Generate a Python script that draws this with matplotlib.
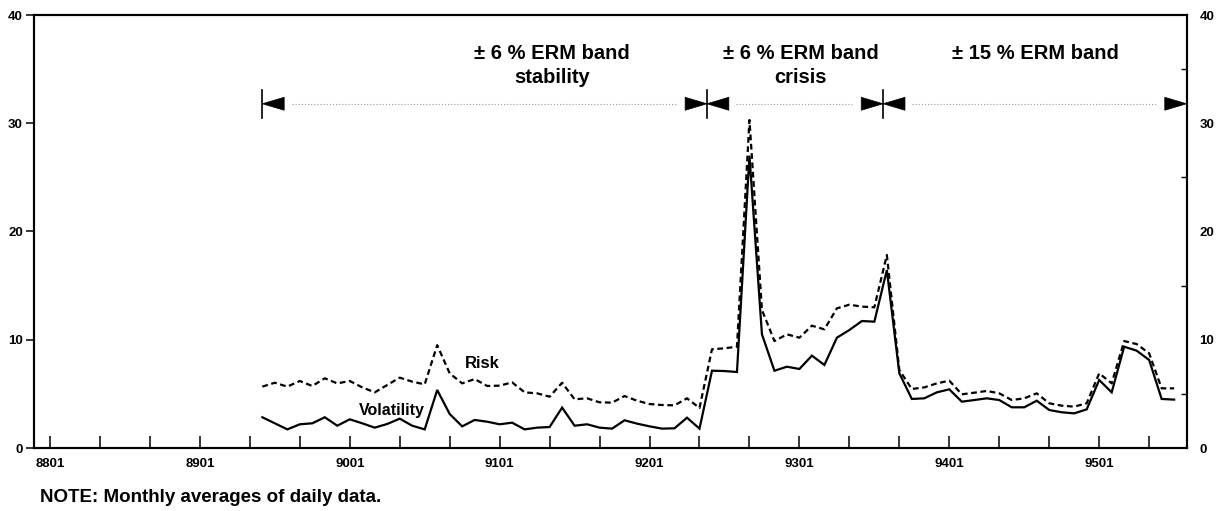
import numpy as np
import pandas as pd
import matplotlib
matplotlib.use("Agg")
import matplotlib.pyplot as plt
from matplotlib.patches import Polygon

plt.rcParams['font.family'] = ['Liberation Sans', 'DejaVu Sans']
plt.rcParams['font.weight'] = 'bold'

# ---- data (monthly averages, 1989-06 .. 1995-07) ----
months = pd.period_range('1989-06', '1995-07', freq='M')
volatility = [2.84, 2.28, 1.72, 2.19, 2.28, 2.84, 2.06, 2.65, 2.28, 1.88, 2.22, 2.71,
              2.06, 1.72, 5.36, 3.14, 2.00, 2.59, 2.43, 2.19, 2.34, 1.72, 1.88, 1.94,
              3.73, 2.06, 2.19, 1.88, 1.79, 2.56, 2.25, 2.00, 1.79, 1.82, 2.80, 1.79,
              7.14, 7.11, 7.02, 27.0, 10.5, 7.14, 7.51, 7.30, 8.53, 7.67, 10.19, 10.9,
              11.73, 11.67, 16.44, 6.90, 4.53, 4.59, 5.14, 5.42, 4.28, 4.43, 4.59, 4.43,
              3.76, 3.76, 4.37, 3.51, 3.30, 3.20, 3.57, 6.28, 5.14, 9.36, 8.99, 8.13,
              4.53, 4.47]
risk = [5.67, 6.03, 5.67, 6.19, 5.73, 6.44, 5.97, 6.19, 5.60, 5.14, 5.82, 6.50,
        6.13, 5.88, 9.50, 6.90, 5.97, 6.37, 5.73, 5.76, 6.06, 5.14, 5.05, 4.74,
        6.03, 4.50, 4.59, 4.22, 4.19, 4.80, 4.37, 4.06, 3.97, 3.94, 4.59, 3.70,
        9.12, 9.21, 9.36, 30.3, 12.75, 9.88, 10.5, 10.19, 11.3, 10.96, 12.9, 13.24,
        13.06, 13.0, 17.83, 7.20, 5.45, 5.60, 5.97, 6.22, 4.96, 5.11, 5.27, 5.05,
        4.43, 4.59, 5.05, 4.13, 3.91, 3.82, 4.13, 6.90, 5.97, 9.88, 9.60, 8.75,
        5.51, 5.51]
tick_labels = ['8801', '8901', '9001', '9101', '9201', '9301', '9401', '9501']
band_bounds = [17, 52.6, 66.7, 91.0]          # months since 8801
band_texts = ['\u00b1 6 % ERM band\nstability', '\u00b1 6 % ERM band\ncrisis', '\u00b1 15 % ERM band']
band_text_x = [40.2, 60.1, 78.9]

base = pd.Period('1988-01', freq='M')
x = np.array([(m - base).n for m in months])

fig = plt.figure(figsize=(12.24, 5.11), dpi=100)
ax = fig.add_axes([34/1224, 63/511, (1187-34)/1224, (448-15)/511])

ax.plot(x, volatility, color='black', lw=1.6, solid_joinstyle='miter')
ax.plot(x, risk, color='black', lw=1.6, ls=(0, (2.6, 1.6)))

ax.set_xlim(-1.28, 91.03)
ax.set_ylim(0, 40)

for s in ax.spines.values():
    s.set_linewidth(1.5)

ax.set_xticks(np.arange(0, 85, 12))
ax.set_xticklabels(tick_labels, fontsize=9.5, fontweight='bold')
ax.set_xticks(np.arange(0, 91, 4), minor=True)
ax.tick_params(axis='x', which='both', direction='in', length=9, width=1.1, pad=7)
ax.set_yticks([0, 10, 20, 30, 40])
ax.set_yticklabels(['0', '10', '20', '30', '40'], fontsize=9.5, fontweight='bold')
ax.tick_params(axis='y', which='major', direction='out', length=6, width=1.1, pad=2)

ax2 = ax.twinx()
ax2.set_ylim(0, 40)
ax2.set_yticks([0, 10, 20, 30, 40])
ax2.set_yticklabels(['0', '10', '20', '30', '40'], fontsize=9.5, fontweight='bold')
ax2.set_yticks([5, 15, 25, 35], minor=True)
ax2.tick_params(axis='y', which='major', direction='out', length=0, pad=9)
ax2.tick_params(axis='y', which='minor', direction='in', length=4, width=1.0)
for s in ax2.spines.values():
    s.set_linewidth(1.5)

# ---- band arrows ----
ya = 31.8
tl = 1.75   # triangle length (months)
th = 0.6    # triangle half height
def tri(tip, direction):
    b = tip - direction * tl
    ax.add_patch(Polygon([[tip, ya], [b, ya + th], [b, ya - th]], closed=True,
                         facecolor='black', edgecolor='black', lw=0.5, clip_on=False, zorder=4))

# left end
tri(band_bounds[0], -1)
ax.plot([band_bounds[0], band_bounds[0]], [30.5, 33.1], color='black', lw=1.2, clip_on=False)
for b in band_bounds[1:3]:
    tri(b, 1)
    tri(b, -1)
    ax.plot([b, b], [30.5, 33.1], color='black', lw=1.2)
tri(band_bounds[3], 1)
# dotted connecting lines
for a, b in zip(band_bounds[:-1], band_bounds[1:]):
    ax.plot([a + tl + 0.6, b - tl - 0.6], [ya, ya], color='0.6', lw=0.8, ls=(0, (1, 1.8)))

for tx, t in zip(band_text_x, band_texts):
    ax.text(tx, 37.35, t, ha='center', va='top', fontsize=14.5, fontweight='bold',
            linespacing=1.35)

ax.text(34.6, 7.85, 'Risk', ha='center', va='center', fontsize=12, fontweight='bold')
ax.text(27.4, 3.5, 'Volatility', ha='center', va='center', fontsize=11.5, fontweight='bold')

fig.text(40/1224, 1 - 497/511, 'NOTE: Monthly averages of daily data.', ha='left', va='center',
         fontsize=13.5, fontweight='bold')

fig.savefig('out.png', dpi=100)
